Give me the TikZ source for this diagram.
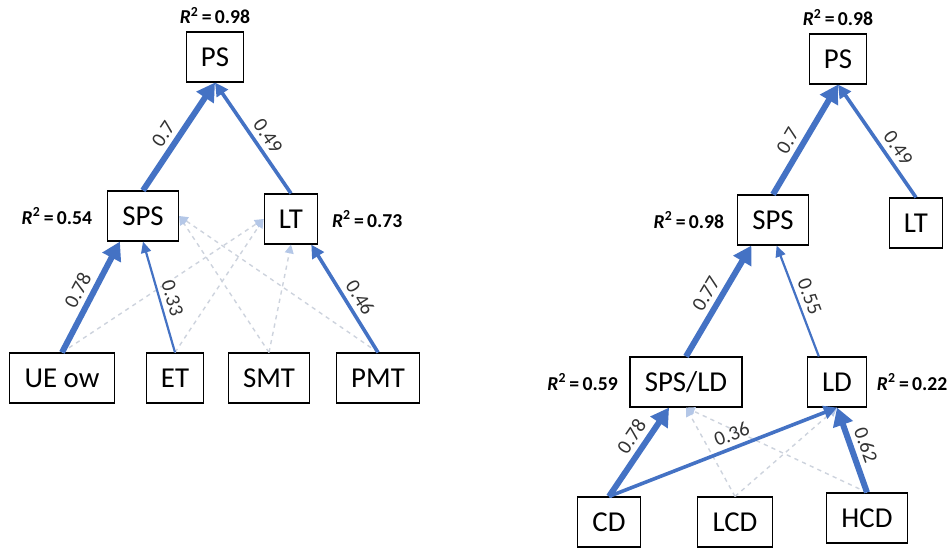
\documentclass[tikz,border=0pt]{standalone}
\usepackage{fontspec}
\setmainfont{Carlito}
\usetikzlibrary{arrows.meta,calc,positioning}
\definecolor{semblue}{HTML}{4472C4}
\definecolor{faint}{HTML}{CDD3DD}
\definecolor{fainthead}{HTML}{B4C7E7}
\newcommand{\rsq}[1]{\textbf{\textit{R}\textsuperscript{2}\,=\,#1}}

\begin{document}
\begin{tikzpicture}[x=0.025cm, y=-0.025cm, font=\fontsize{20.5}{24}\selectfont,
    var/.style={draw, line width=0.8pt, minimum height=1.25cm, inner xsep=0.37cm},
    rsqlbl/.style={inner sep=1pt, font=\fontsize{14}{16}\selectfont},
    coef/.style={sloped, above, inner sep=3.5pt, text=black!80, font=\fontsize{14.5}{16}\selectfont},
    strongpath/.style={semblue, line width=0.15cm, -{Triangle[length=0.45cm, width=0.5cm]}},
    midpath/.style={semblue, line width=0.09cm, -{Triangle[length=0.33cm, width=0.33cm]}},
    weakpath/.style={semblue, line width=0.055cm, -{Triangle[length=0.28cm, width=0.25cm]}},
    nspath/.style={faint, line width=0.035cm, dashed, -{Triangle[length=0.22cm, width=0.22cm, color=fainthead]}}]
  \useasboundingbox (0,0) rectangle (947,548);
  % left model
  \node[var] (ps) at (215,57) {PS};
  \node[var] (sps) at (143,216) {SPS};
  \node[var] (lt) at (291,219) {LT};
  \node[var] (ue) at (62,378) {UE ow};
  \node[var] (et) at (175,378) {ET};
  \node[var] (smt) at (269,378) {SMT};
  \node[var] (pmt) at (378,378) {PMT};
  \node[rsqlbl, above=0.15cm of ps] (r-ps) {\rsq{0.98}};
  \node[rsqlbl, left=0.33cm of sps] (r-sps) {\rsq{0.54}};
  \node[rsqlbl, right=0.3cm of lt] (r-lt) {\rsq{0.73}};
  \draw[nspath] (ue.north) -- (lt.west);
  \draw[nspath] (et.north) -- (lt.west);
  \draw[nspath] (smt.north) -- (sps.east);
  \draw[nspath] (pmt.north) -- (sps.east);
  \draw[nspath] (smt.north) -- (lt.south);
  \draw[strongpath] (sps.north) -- node[coef, pos=.45] {0.7} (ps.south);
  \draw[midpath] (lt.north) -- node[coef, pos=.45] {0.49} (ps.south);
  \draw[strongpath] (ue.north) -- node[coef, pos=.5] {0.78} ($(sps.south west)!.18!(sps.south east)$);
  \draw[weakpath] (et.north) -- node[coef, pos=.46] {0.33} (sps.south);
  \draw[midpath] (pmt.north) -- node[coef, pos=.44] {0.46} ($(lt.south west)!.87!(lt.south east)$);
  % right model
  \node[var] (ps2) at (838,59) {PS};
  \node[var] (sps2) at (773,220) {SPS};
  \node[var] (lt2) at (916,223) {LT};
  \node[var] (spsld) at (686,382) {SPS/LD};
  \node[var] (ld) at (837,382) {LD};
  \node[var] (cd) at (609,522) {CD};
  \node[var] (lcd) at (735,522) {LCD};
  \node[var] (hcd) at (867,518) {HCD};
  \node[rsqlbl, above=0.15cm of ps2] (r-ps2) {\rsq{0.98}};
  \node[rsqlbl, left=0.28cm of sps2] (r-sps2) {\rsq{0.98}};
  \node[rsqlbl, left=0.25cm of spsld] (r-spsld) {\rsq{0.59}};
  \node[rsqlbl, right=0.2cm of ld] (r-ld) {\rsq{0.22}};
  \draw[nspath] (lcd.north) -- (spsld.south);
  \draw[nspath] (lcd.north) -- (ld.south);
  \draw[nspath] (hcd.north) -- (spsld.south);
  \draw[strongpath] (sps2.north) -- node[coef, pos=.42] {0.7} (ps2.south);
  \draw[midpath] (lt2.north) -- node[coef, pos=.37] {0.49} (ps2.south);
  \draw[strongpath] (spsld.north) -- node[coef, pos=.5] {0.77} ($(sps2.south west)!.2!(sps2.south east)$);
  \draw[weakpath] ($(ld.north west)!.2!(ld.north east)$) -- node[coef, pos=.5] {0.55} ($(sps2.south west)!.55!(sps2.south east)$);
  \draw[strongpath] (cd.north) -- node[coef, pos=.58] {0.78} ($(spsld.south west)!.35!(spsld.south east)$);
  \draw[midpath] (cd.north) -- node[coef, pos=.56] {0.36} (ld.south);
  \draw[strongpath] (hcd.north) -- node[coef, pos=.5] {0.62} (ld.south);
\end{tikzpicture}
\end{document}
